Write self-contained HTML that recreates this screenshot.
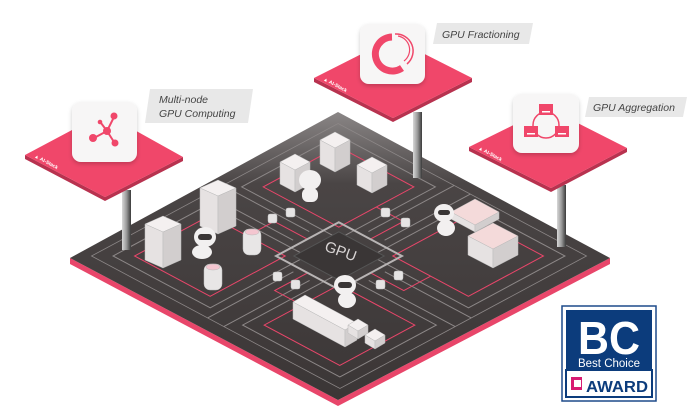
<!DOCTYPE html>
<html><head><meta charset="utf-8"><style>
html,body{margin:0;padding:0;background:#fff;width:700px;height:420px;overflow:hidden}
svg{display:block}
text{font-family:"Liberation Sans",sans-serif}
</style></head><body>
<svg width="700" height="420" viewBox="0 0 700 420" xmlns="http://www.w3.org/2000/svg">
<defs>
<linearGradient id="plat" x1="0" y1="0" x2="0" y2="1">
<stop offset="0" stop-color="#8a8686"/><stop offset="0.25" stop-color="#4a4545"/><stop offset="1" stop-color="#3b3636"/>
</linearGradient>
<linearGradient id="pil" x1="0" y1="0" x2="1" y2="0">
<stop offset="0" stop-color="#d8d8d8"/><stop offset="0.5" stop-color="#9a9a9a"/><stop offset="1" stop-color="#3a3a3a"/>
</linearGradient>
<filter id="sh" x="-20%" y="-20%" width="140%" height="140%"><feDropShadow dx="0" dy="2" stdDeviation="2" flood-opacity="0.2"/></filter>
</defs>

<!-- platform side -->
<polygon points="70,258 338,400 610,258 610,264 338,406 70,264" fill="#e8466a"/>
<!-- platform top -->
<polygon points="338,112 610,258 338,400 70,258" fill="url(#plat)"/>

<g transform="matrix(2.7,1.44,-2.68,1.44,338,112)" fill="none" vector-effect="non-scaling-stroke">
  <!-- outer gray line -->
  <rect x="4" y="4" width="92" height="92" stroke="#8d8888" stroke-width="0.8" vector-effect="non-scaling-stroke"/>
  <!-- quadrant gray outlines -->
  <rect x="8" y="8" width="36" height="36" stroke="#8d8888" vector-effect="non-scaling-stroke"/>
  <rect x="56" y="8" width="36" height="36" stroke="#8d8888" vector-effect="non-scaling-stroke"/>
  <rect x="8" y="56" width="36" height="36" stroke="#8d8888" vector-effect="non-scaling-stroke"/>
  <rect x="56" y="56" width="36" height="36" stroke="#8d8888" vector-effect="non-scaling-stroke"/>
  <!-- quadrant pink outlines -->
  <rect x="12" y="12" width="28" height="28" stroke="#e8466a" vector-effect="non-scaling-stroke"/>
  <rect x="60" y="12" width="28" height="28" stroke="#e8466a" vector-effect="non-scaling-stroke"/>
  <rect x="12" y="60" width="28" height="28" stroke="#e8466a" vector-effect="non-scaling-stroke"/>
  <rect x="60" y="60" width="28" height="28" stroke="#e8466a" vector-effect="non-scaling-stroke"/>
  <!-- lanes -->
  <path d="M47 4 V36 M53 4 V36 M47 64 V96 M53 64 V96 M4 47 H36 M4 53 H36 M64 47 H96 M64 53 H96" stroke="#8d8888" vector-effect="non-scaling-stroke"/>
  <path d="M40 26 H50 V38 M60 74 H50 V62 M26 60 V50 H38 M74 40 V50 H62" stroke="#e8466a" vector-effect="non-scaling-stroke"/>
  <!-- center gray square -->
  <rect x="38.3" y="38.3" width="23.4" height="23.4" stroke="#b8b4b4" stroke-width="2" vector-effect="non-scaling-stroke"/>
  <rect x="41.6" y="41.6" width="16.8" height="16.8" fill="#3a3636" stroke="#555" vector-effect="non-scaling-stroke"/>
</g>
<text x="339" y="256" font-family="Liberation Serif,serif" font-size="15" fill="#d8d4d4" text-anchor="middle" transform="rotate(20 339 256)">GPU</text>

<!-- small cylinders -->
<g fill="#e6e4e4" stroke="#bbb" stroke-width="0.5">
<rect x="268" y="214" width="9" height="9" rx="2"/><rect x="286" y="208" width="9" height="9" rx="2"/>
<rect x="381" y="208" width="9" height="9" rx="2"/><rect x="401" y="218" width="9" height="9" rx="2"/>
<rect x="273" y="272" width="9" height="9" rx="2"/><rect x="291" y="280" width="9" height="9" rx="2"/>
<rect x="376" y="280" width="9" height="9" rx="2"/><rect x="394" y="271" width="9" height="9" rx="2"/>
</g>

<!-- servers helper: stacks -->
<g stroke="#bbb" stroke-width="0.5">
<!-- top quadrant -->
<g transform="translate(335,140)"><polygon points="0,-8 15,0 0,8 -15,0" fill="#f4f0f0"/><polygon points="-15,0 0,8 0,32 -15,24" fill="#e6e2e2"/><polygon points="15,0 0,8 0,32 15,24" fill="#d2cece"/></g>
<g transform="translate(295,162)"><polygon points="0,-8 15,0 0,8 -15,0" fill="#f4f0f0"/><polygon points="-15,0 0,8 0,30 -15,22" fill="#e6e2e2"/><polygon points="15,0 0,8 0,30 15,22" fill="#d2cece"/></g>
<g transform="translate(372,165)"><polygon points="0,-8 15,0 0,8 -15,0" fill="#f4f0f0"/><polygon points="-15,0 0,8 0,28 -15,20" fill="#e6e2e2"/><polygon points="15,0 0,8 0,28 15,20" fill="#d2cece"/></g>
<!-- left quadrant -->
<g transform="translate(218,188)"><polygon points="0,-8 18,0 0,8 -18,0" fill="#f4f0f0"/><polygon points="-18,0 0,8 0,46 -18,38" fill="#e6e2e2"/><polygon points="18,0 0,8 0,46 18,38" fill="#d2cece"/></g>
<g transform="translate(163,224)"><polygon points="0,-8 18,0 0,8 -18,0" fill="#f4f0f0"/><polygon points="-18,0 0,8 0,44 -18,36" fill="#e6e2e2"/><polygon points="18,0 0,8 0,44 18,36" fill="#d2cece"/></g>
<!-- right quadrant gpu boxes -->
<g transform="translate(475,212)"><polygon points="0,-13 24,0 0,13 -24,0" fill="#f4dada"/><polygon points="-24,0 0,13 0,20 -24,7" fill="#e6e2e2"/><polygon points="24,0 0,13 0,20 24,7" fill="#d2cece"/></g>
<g transform="translate(493,236)"><polygon points="0,-13 25,0 0,13 -25,0" fill="#f4dada"/><polygon points="-25,0 0,13 0,32 -25,19" fill="#e6e2e2"/><polygon points="25,0 0,13 0,32 25,19" fill="#d2cece"/></g>
<!-- bottom console -->
<g transform="translate(305,305)"><polygon points="0,-10 52,18 40,25 -12,-3" fill="#f4f0f0"/><polygon points="-12,-3 40,25 40,42 -12,14" fill="#e6e2e2"/><polygon points="52,18 40,25 40,42 52,35" fill="#d2cece"/></g>
<g transform="translate(358,325)"><polygon points="0,-6 10,0 0,6 -10,0" fill="#f4f0f0"/><polygon points="-10,0 0,6 0,14 -10,8" fill="#e6e2e2"/><polygon points="10,0 0,6 0,14 10,8" fill="#d2cece"/></g>
<g transform="translate(375,335)"><polygon points="0,-6 10,0 0,6 -10,0" fill="#f4f0f0"/><polygon points="-10,0 0,6 0,14 -10,8" fill="#e6e2e2"/><polygon points="10,0 0,6 0,14 10,8" fill="#d2cece"/></g>
</g>
<!-- cylinders JOB -->
<g fill="#e8e6e6" stroke="#bbb" stroke-width="0.5">
<rect x="243" y="229" width="18" height="26" rx="6"/><ellipse cx="252" cy="232" rx="7" ry="3" fill="#f4c6d0"/>
<rect x="204" y="264" width="18" height="26" rx="6"/><ellipse cx="213" cy="267" rx="7" ry="3" fill="#f4c6d0"/>
</g>
<!-- robots -->
<g fill="#f2f0f0">
<ellipse cx="310" cy="180" rx="11" ry="10"/><rect x="302" y="188" width="16" height="14" rx="6"/>
<ellipse cx="205" cy="237" rx="11" ry="10"/><ellipse cx="202" cy="252" rx="10" ry="7"/>
<ellipse cx="444" cy="213" rx="10" ry="9"/><ellipse cx="446" cy="228" rx="9" ry="8"/>
<ellipse cx="345" cy="285" rx="11" ry="10"/><ellipse cx="347" cy="300" rx="9" ry="8"/>
</g>
<g fill="#3a3636"><rect x="338" y="282" width="14" height="6" rx="3"/><rect x="198" y="234" width="14" height="6" rx="3"/><rect x="438" y="210" width="12" height="5" rx="2.5"/></g>

<!-- pillars -->
<rect x="122" y="190" width="9" height="60" fill="url(#pil)"/>
<rect x="413" y="112" width="9" height="66" fill="url(#pil)"/>
<rect x="557" y="185" width="9" height="62" fill="url(#pil)"/>

<!-- pink panels -->
<polygon points="25,155 105,197 183,157 183,161 105,201 25,159" fill="#b8324f"/>
<polygon points="104,113 183,157 105,197 25,155" fill="#f0476a"/>
<polygon points="314,78 393,118 472,78 472,82 393,122 314,82" fill="#b8324f"/>
<polygon points="393,38 472,78 393,118 314,78" fill="#f0476a"/>
<polygon points="469,147 551,188 627,148 627,152 551,192 469,151" fill="#b8324f"/>
<polygon points="548,108 627,148 551,188 469,147" fill="#f0476a"/>
<text x="34" y="157" font-size="5" fill="#fff" font-weight="bold" transform="rotate(28 34 157)">▲ AI-Stack</text>
<text x="323" y="80" font-size="5" fill="#fff" font-weight="bold" transform="rotate(28 323 80)">▲ AI-Stack</text>
<text x="478" y="149" font-size="5" fill="#fff" font-weight="bold" transform="rotate(28 478 149)">▲ AI-Stack</text>

<!-- icons -->
<rect x="72" y="102" width="65" height="60" rx="9" fill="#f7f6f6" filter="url(#sh)"/>
<g stroke="#f0476a" stroke-width="2" fill="#f0476a">
<line x1="107" y1="131" x2="114" y2="117"/><line x1="107" y1="131" x2="94" y2="138"/><line x1="107" y1="131" x2="114" y2="142"/><line x1="107" y1="131" x2="101" y2="123"/>
<circle cx="107" cy="131" r="4" stroke="none"/><circle cx="114" cy="116" r="3.5" stroke="none"/><circle cx="93" cy="138" r="4" stroke="none"/><circle cx="115" cy="143" r="3.5" stroke="none"/><circle cx="100" cy="122" r="2.3" stroke="none"/>
</g>
<rect x="360" y="24" width="65" height="60" rx="9" fill="#f7f6f6" filter="url(#sh)"/>
<path d="M392 37 A17 17 0 1 0 402 68" fill="none" stroke="#f0476a" stroke-width="7"/>
<path d="M395 34 A17 17 0 0 1 407 64" fill="none" stroke="#f0476a" stroke-width="1.5"/>
<path d="M398 36 A14 14 0 0 1 404 61" fill="none" stroke="#f0476a" stroke-width="1.2"/>
<rect x="513" y="94" width="66" height="59" rx="9" fill="#f7f6f6" filter="url(#sh)"/>
<circle cx="546" cy="125" r="13" fill="none" stroke="#f0476a" stroke-width="1.5"/>
<g fill="#f0476a"><rect x="539" y="104" width="14" height="11"/><rect x="524" y="126" width="14" height="11"/><rect x="555" y="126" width="14" height="11"/></g>
<g fill="#fff"><rect x="542" y="111" width="8" height="1.5"/><rect x="527" y="133" width="8" height="1.5"/><rect x="558" y="133" width="8" height="1.5"/></g>

<!-- labels -->
<polygon points="150,89 253,89 248,123 145,123" fill="#e8e8e8"/>
<text x="159" y="103" font-size="10.5" font-style="italic" fill="#444">Multi-node</text>
<text x="159" y="117" font-size="10.5" font-style="italic" fill="#444">GPU Computing</text>
<polygon points="437,23 533,23 529,44 433,44" fill="#e8e8e8"/>
<text x="442" y="38" font-size="10.5" font-style="italic" fill="#444">GPU Fractioning</text>
<polygon points="589,97 687,97 683,117 585,117" fill="#e8e8e8"/>
<text x="593" y="111" font-size="10.5" font-style="italic" fill="#444">GPU Aggregation</text>

<!-- badge -->
<rect x="562" y="306" width="94" height="95" fill="#fff" stroke="#1d4a8a" stroke-width="1.5"/>
<rect x="566" y="310" width="86" height="60" fill="#0c3c7c"/>
<rect x="566" y="370" width="86" height="27" fill="#fff" stroke="#0c3c7c" stroke-width="2"/>
<text x="609" y="354" font-size="46" font-weight="bold" fill="#fff" text-anchor="middle" textLength="62" lengthAdjust="spacingAndGlyphs">BC</text>
<text x="609" y="367" font-size="11.5" fill="#fff" text-anchor="middle">Best Choice</text>
<rect x="571" y="377" width="11" height="13" fill="#d81b72"/><rect x="574" y="380" width="7" height="7" fill="#fff"/>
<text x="617" y="392" font-size="16" font-weight="bold" fill="#0c3c7c" text-anchor="middle" textLength="62" lengthAdjust="spacingAndGlyphs">AWARD</text>
</svg>
</body></html>
